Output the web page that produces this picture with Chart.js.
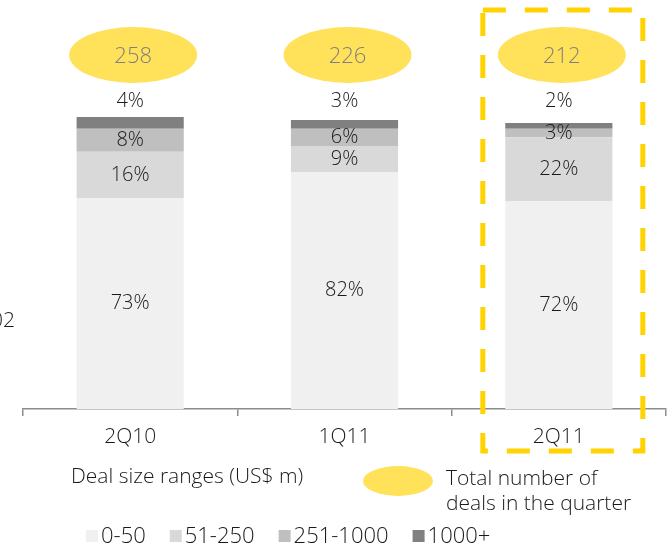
<!DOCTYPE html>
<html lang="en">
<head>
<meta charset="utf-8">
<title>Deal size ranges</title>
<script src="https://cdn.jsdelivr.net/npm/chart.js@4.4.0/dist/chart.umd.min.js"></script>
<style>
  body { margin: 0; padding: 0; background: #fff; }
</style>
</head>
<body>
<canvas id="chart" width="670" height="546"></canvas>
<script>
// quarters and deal counts
const quarters = ['2Q10', '1Q11', '2Q11'];
const totalDeals = [258, 226, 212];

// share of deals per size range (US$ m), in %
const rangeNames = ['0-50', '51-250', '251-1000', '1000+'];
const share0to50 = [73, 82, 72];
const share51to250 = [16, 9, 22];
const share251to1000 = [8, 6, 3];
const share1000plus = [4, 3, 2];

const rangeColors = ['#f0f0f0', '#d9d9d9', '#bfbfbf', '#808080'];
const FONT = 'Open Sans';
const W = '300 ';
const TEXT = '#1a1a1a';

const series = [share0to50, share51to250, share251to1000, share1000plus];

const extras = {
  id: 'extras',
  afterDatasetsDraw(chart) {
    const ctx = chart.ctx;
    const area = chart.chartArea;
    const last = series.length - 1;
    ctx.save();
    ctx.textAlign = 'center';
    ctx.textBaseline = 'middle';
    ctx.fillStyle = TEXT;
    ctx.font = W + '20px "' + FONT + '"';
    series.forEach((vals, d) => {
      const meta = chart.getDatasetMeta(d);
      meta.data.forEach((bar, i) => {
        const y = d === last ? area.top - 19 : (bar.y + bar.base) / 2;
        ctx.fillText(vals[i] + '%', bar.x, y);
      });
    });
    ctx.restore();
  },
  afterDraw(chart) {
    const ctx = chart.ctx;
    const x = chart.scales.x;
    ctx.save();

    // bubbles with total deal counts
    totalDeals.forEach((n, i) => {
      const cx = x.getPixelForValue(i) + 3;
      ctx.fillStyle = '#ffe15a';
      ctx.beginPath();
      ctx.ellipse(cx, 55, 64, 28, 0, 0, Math.PI * 2);
      ctx.fill();
      ctx.fillStyle = '#808080';
      ctx.font = W + '22px "' + FONT + '"';
      ctx.textAlign = 'center';
      ctx.textBaseline = 'middle';
      ctx.fillText(String(n), cx, 57);
    });

    // cut-off text at the left edge
    ctx.fillStyle = TEXT;
    ctx.textAlign = 'right';
    ctx.font = W + '21px "' + FONT + '"';
    ctx.fillText('02', 15, 321);

    // dashed highlight round the latest quarter
    const c = x.getPixelForValue(2);
    ctx.strokeStyle = '#ffd200';
    ctx.lineWidth = 5;
    ctx.setLineDash([23, 19]);
    ctx.strokeRect(c - 76, 10, 160, 441);
    ctx.setLineDash([]);

    // legend texts
    ctx.textAlign = 'left';
    ctx.fillStyle = TEXT;
    ctx.fillText('Deal size ranges (US$ m)', 71, 477);

    ctx.fillStyle = '#ffe15a';
    ctx.beginPath();
    ctx.ellipse(398, 481, 35, 15, 0, 0, Math.PI * 2);
    ctx.fill();
    ctx.fillStyle = TEXT;
    ctx.fillText('Total number of', 446, 479);
    ctx.fillText('deals in the quarter', 446, 504);

    ctx.font = W + '22px "' + FONT + '"';
    let lx = 86;
    rangeNames.forEach((name, i) => {
      ctx.fillStyle = rangeColors[i];
      ctx.fillRect(lx, 530, 12, 12);
      ctx.fillStyle = TEXT;
      ctx.fillText(name, lx + 15, 537);
      lx += 15 + ctx.measureText(name).width + 24;
    });
    ctx.restore();
  }
};

new Chart(document.getElementById('chart'), {
  type: 'bar',
  data: {
    labels: quarters,
    datasets: series.map((vals, i) => ({
      label: rangeNames[i],
      data: vals,
      backgroundColor: rangeColors[i],
      borderWidth: 0,
      barPercentage: 0.5,
      categoryPercentage: 1,
      clip: false
    }))
  },
  options: {
    responsive: false,
    animation: false,
    devicePixelRatio: 1,
    layout: { padding: { left: 23, right: 4, top: 120, bottom: 0 } },
    plugins: {
      legend: { display: false },
      tooltip: { enabled: false }
    },
    scales: {
      x: {
        stacked: true,
        grid: { drawOnChartArea: false, drawTicks: true, tickLength: 7, color: '#8c8c8c', lineWidth: 1.5, offset: true },
        border: { color: '#8c8c8c', width: 1.5 },
        ticks: { color: TEXT, font: { family: FONT, size: 21, weight: '300' }, padding: 8 },
        afterFit: s => { s.height = 137; }
      },
      y: { stacked: true, display: false, min: 0, max: 100 }
    }
  },
  plugins: [extras]
});
</script>
</body>
</html>
